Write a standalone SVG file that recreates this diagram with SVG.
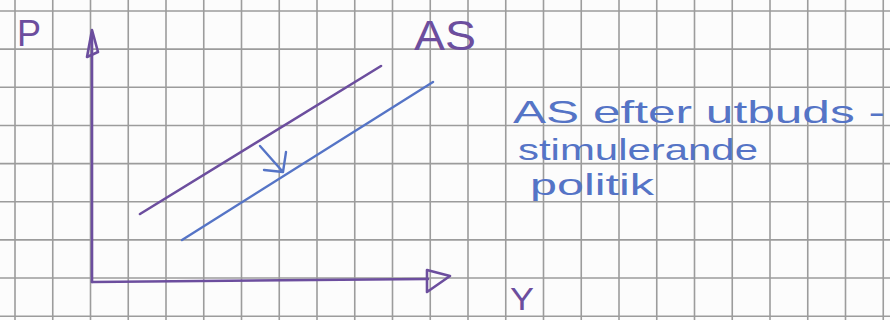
<svg xmlns="http://www.w3.org/2000/svg" width="890" height="320" viewBox="0 0 890 320">
<style>
.grid{stroke:#9c9c9c;stroke-width:1.6;fill:none}
.pur{stroke:#6c4e9e;stroke-width:2.6;fill:none;stroke-linecap:round;stroke-linejoin:round}
.blu{stroke:#5574c6;stroke-width:2.4;fill:none;stroke-linecap:round;stroke-linejoin:round}
.tp{font-family:"Liberation Sans",Arial,sans-serif;fill:#6c4e9e}
.tb{font-family:"Liberation Sans",Arial,sans-serif;fill:#5574c6}
</style>
<rect width="890" height="320" fill="#fcfcfc"/>
<g id="grid" class="grid">
<path d="M15 0V320M52.75 0V320M90.5 0V320M128.25 0V320M166 0V320M203.75 0V320M241.5 0V320M279.25 0V320M317 0V320M354.75 0V320M392.5 0V320M430.25 0V320M468 0V320M505.75 0V320M543.5 0V320M581.25 0V320M619 0V320M656.75 0V320M694.5 0V320M732.25 0V320M770 0V320M807.75 0V320M845.5 0V320M883.25 0V320"/>
<path d="M0 11H890M0 49.15H890M0 87.3H890M0 125.45H890M0 163.6H890M0 201.75H890M0 239.9H890M0 278.05H890M0 316.2H890"/>
</g>
<g id="axis-p">
<path class="pur" d="M92 282V36"/>
<path class="pur" d="M92 30L87 57L98 52Z"/>
<text class="tp" x="17" y="46" font-size="36">P</text>
</g>
<g id="axis-y">
<path class="pur" d="M92 282L428 279"/>
<path class="pur" d="M427 270L450 276L427 292Z"/>
<text class="tp" x="510" y="310" font-size="32" textLength="24" lengthAdjust="spacingAndGlyphs">Y</text>
</g>
<g id="as-curve">
<path class="pur" d="M140 214L381 66"/>
<text class="tp" x="414" y="50" font-size="42" textLength="62" lengthAdjust="spacingAndGlyphs">AS</text>
</g>
<g id="as-new-curve">
<path class="blu" d="M182 240L433 82"/>
</g>
<g id="note">
<text class="tb" x="513" y="123" font-size="32" textLength="372" lengthAdjust="spacingAndGlyphs">AS efter utbuds -</text>
<text class="tb" x="518" y="160" font-size="30" textLength="240" lengthAdjust="spacingAndGlyphs">stimulerande</text>
<text class="tb" x="530" y="195" font-size="30" textLength="124" lengthAdjust="spacingAndGlyphs">politik</text>
</g>
<g id="connectors">
<path class="blu" d="M260 146L283 172M286 152L283 172L264 170"/>
</g>
</svg>
